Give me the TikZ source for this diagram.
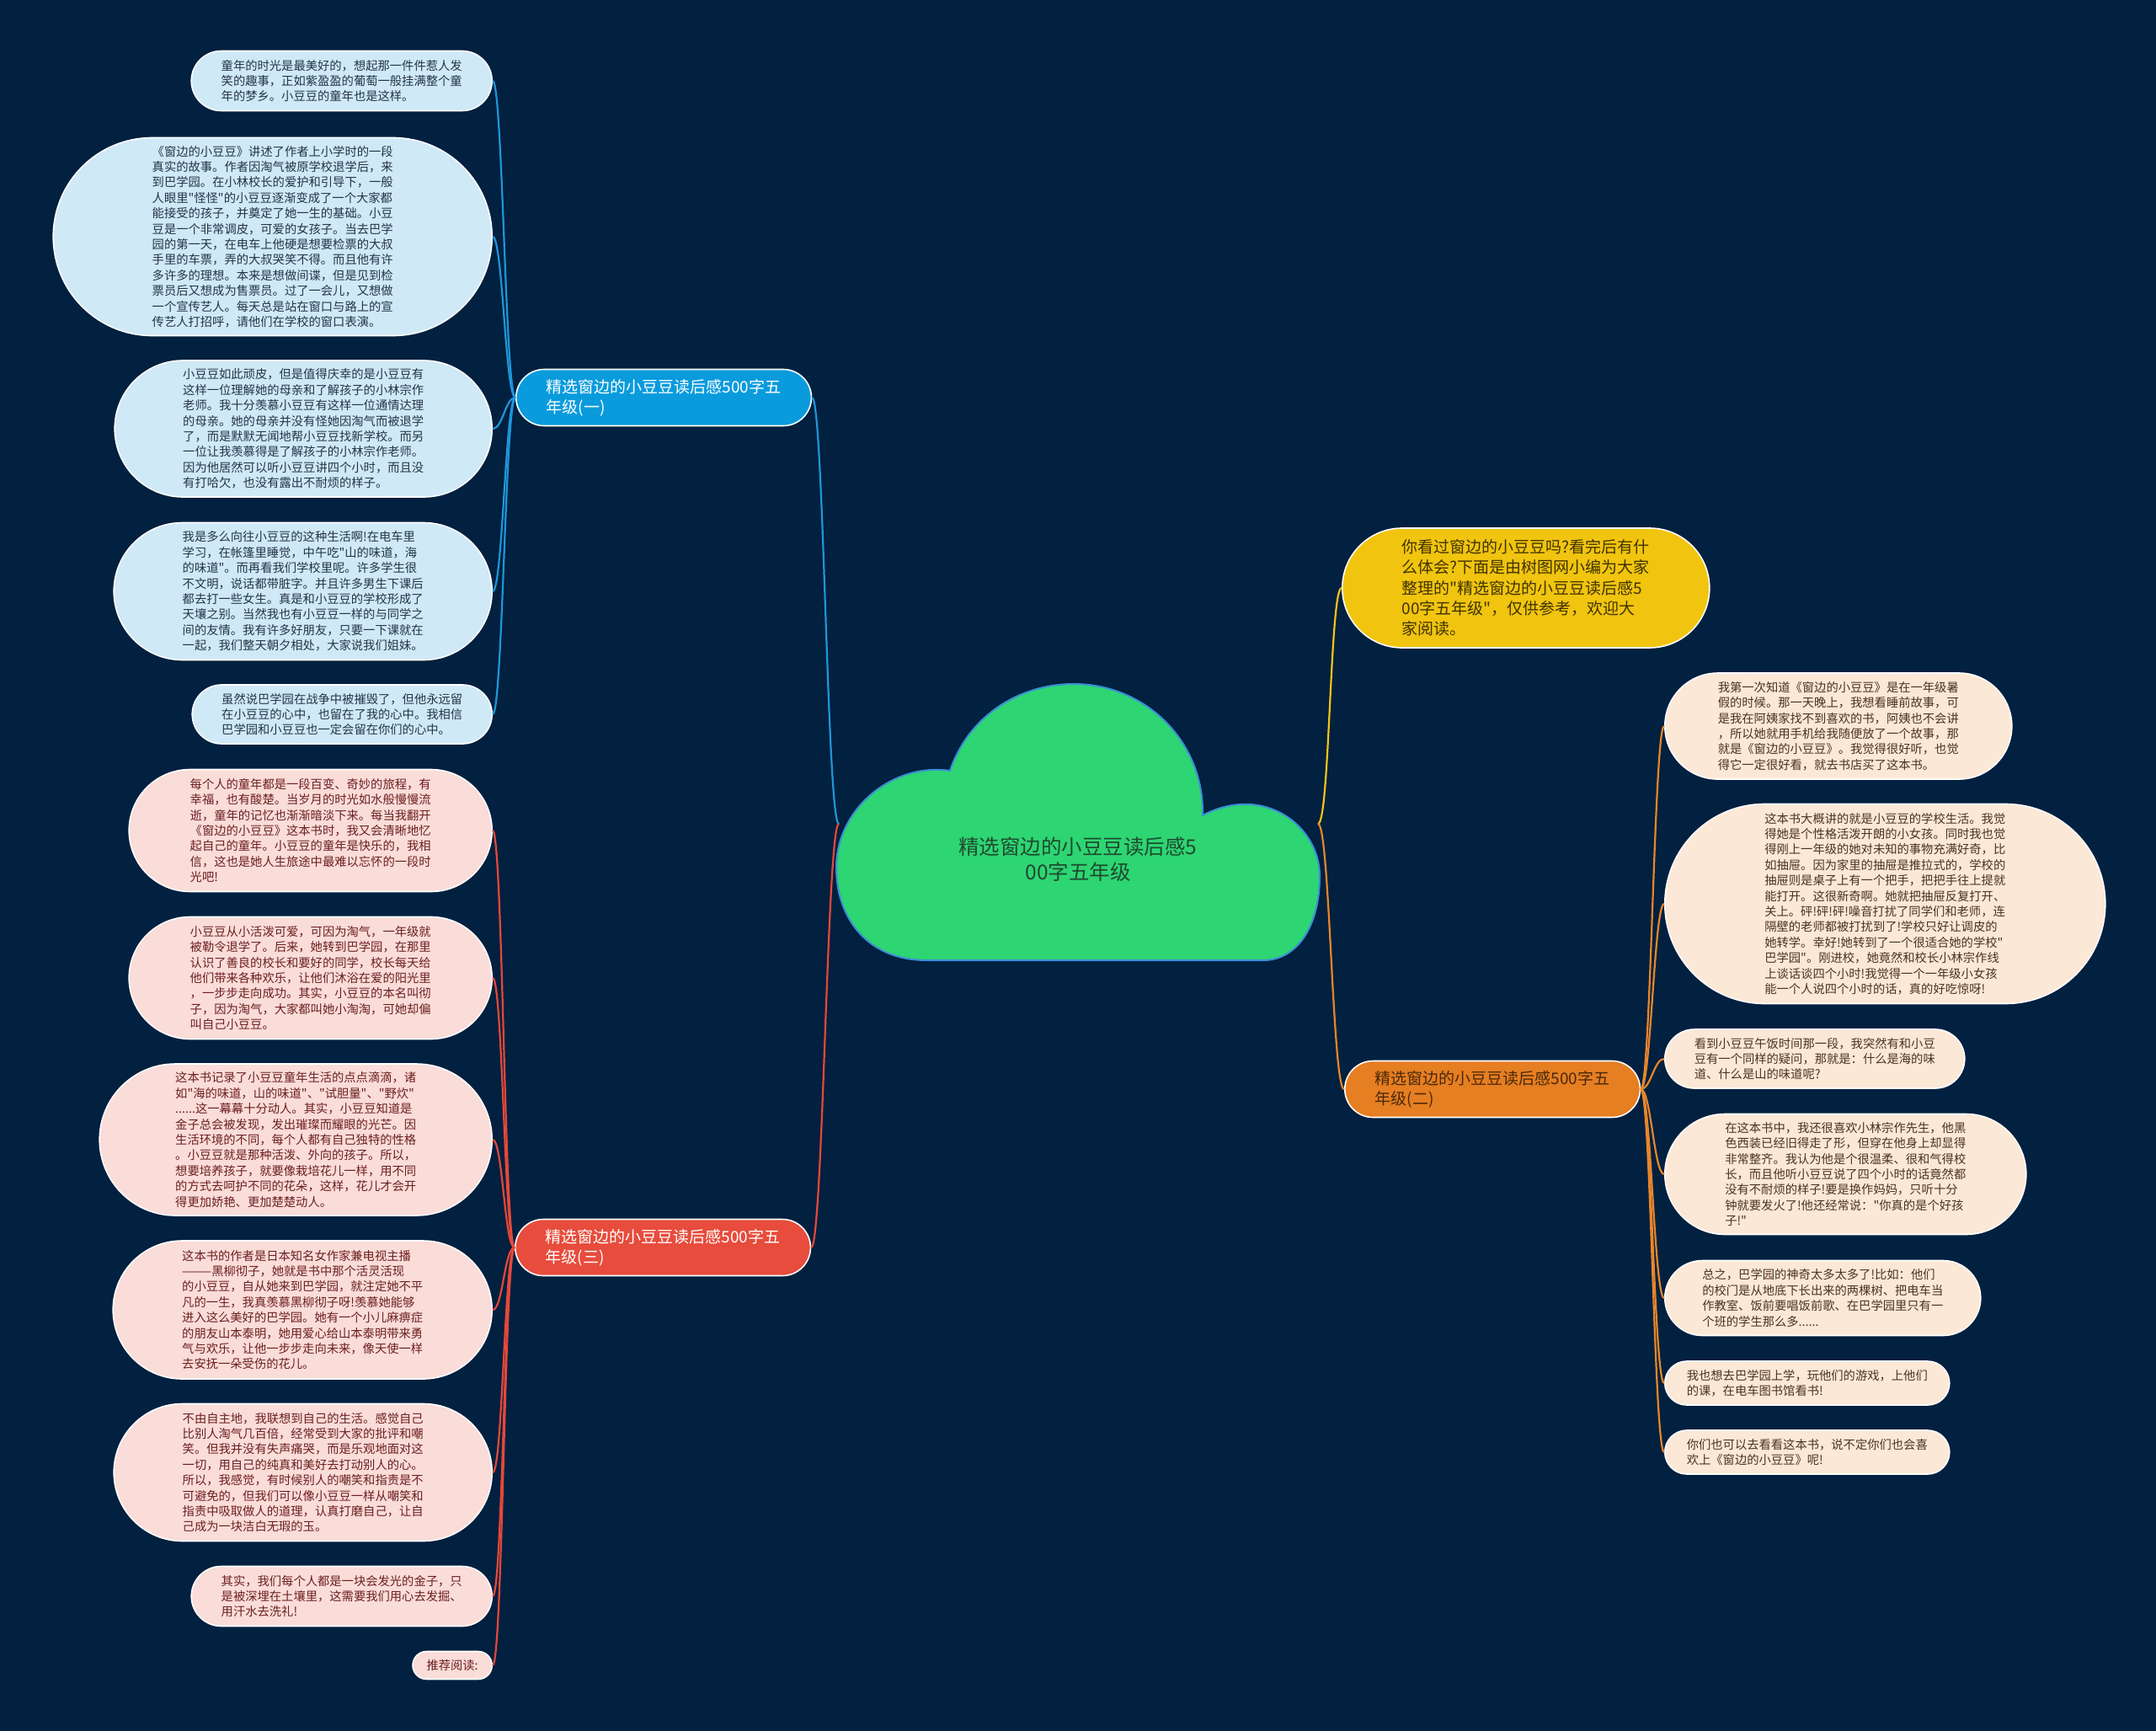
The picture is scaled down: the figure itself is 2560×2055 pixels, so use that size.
\documentclass[tikz,border=0pt]{standalone}
\usepackage{fontspec}
\newfontfamily\cjk{Noto Sans CJK SC}
\definecolor{bgc}{HTML}{02203F}
\definecolor{cloudfill}{HTML}{2ED573}
\definecolor{cloudline}{HTML}{3B8FD6}
\definecolor{roottext}{HTML}{1E4A2E}
\definecolor{cblue}{HTML}{1E96DA}
\definecolor{cred}{HTML}{E5483A}
\definecolor{corange}{HTML}{E8862A}
\definecolor{cyellow}{HTML}{F2C418}
\definecolor{fblue}{HTML}{0A9BDD}
\definecolor{fred}{HTML}{E74C3C}
\definecolor{forange}{HTML}{E67E22}
\definecolor{fyellow}{HTML}{F1C40F}
\definecolor{lblue}{HTML}{CFE9F7}
\definecolor{lpink}{HTML}{FADCD9}
\definecolor{lpeach}{HTML}{FCE8D6}
\definecolor{tblue}{HTML}{243447}
\definecolor{tpink}{HTML}{6B1F1F}
\definecolor{tpeach}{HTML}{4A3320}
\definecolor{tbrown}{HTML}{4A2808}
\definecolor{tyellow}{HTML}{3F3300}
\begin{document}
\begin{tikzpicture}[x=1pt,y=-1pt,
  pill/.style={rectangle, rounded corners=#1, inner xsep=#1, minimum height=2*#1},
  leaf/.style={inner ysep=6pt, align=left, draw=white, line width=1.6pt, font={\cjk\fontsize{14.3}{18.4}\selectfont}},
  leafb/.style={leaf, fill=lblue, text=tblue, anchor=east},
  leafr/.style={leaf, fill=lpink, text=tpink, anchor=east},
  leafo/.style={leaf, fill=lpeach, text=tpeach, anchor=west},
  branch/.style={rectangle, rounded corners=33.5pt, minimum height=67pt, inner xsep=36pt, inner ysep=6pt, align=left, draw=white, line width=1.6pt, anchor=west, font={\cjk\fontsize{19}{24.3}\selectfont}},
  conn/.style={line width=2.2pt},
]
\fill[bgc] (0,0) rectangle (2560,2055);
\useasboundingbox (0,0) rectangle (2560,2055);

% cloud
\fill[cloudfill, draw=cloudline, line width=2pt]
  (1100,1140) .. controls (1030,1140) and (993,1090) .. (993,1030)
  .. controls (993,960) and (1060,905) .. (1128,915)
  .. controls (1150,850) and (1210,812) .. (1275,812)
  .. controls (1360,812) and (1430,880) .. (1428,968)
  .. controls (1500,930) and (1567,980) .. (1567,1040)
  .. controls (1567,1100) and (1540,1140) .. (1500,1140)
  -- cycle;
\node[font={\cjk\fontsize{24.5}{30}\selectfont}, text=roottext, align=center] (root) at (1280,1020) {精选窗边的小豆豆读后感5\\00字五年级};
\coordinate (rootL) at (996,978);
\coordinate (rootR) at (1565,978);

% branches
\node[branch, fill=fblue, text=white] (b1) at (612,472) {精选窗边的小豆豆读后感500字五\\年级(一)};
\node[branch, fill=fred, text=white] (b3) at (611,1481) {精选窗边的小豆豆读后感500字五\\年级(三)};
\node[branch, fill=forange, text=tbrown] (b2) at (1596,1293) {精选窗边的小豆豆读后感500字五\\年级(二)};
\node[pill=71pt, inner ysep=6pt, align=left, draw=white, line width=1.6pt, anchor=west, font={\cjk\fontsize{19}{24.3}\selectfont}, fill=fyellow, text=tyellow] (intro) at (1593,698) {你看过窗边的小豆豆吗?看完后有什\\么体会?下面是由树图网小编为大家\\整理的"精选窗边的小豆豆读后感5\\00字五年级"，仅供参考，欢迎大\\家阅读。};

% blue leaves
\node[leafb, pill=35.5pt] (l1) at (585,96) {童年的时光是最美好的，想起那一件件惹人发\\笑的趣事，正如紫盈盈的葡萄一般挂满整个童\\年的梦乡。小豆豆的童年也是这样。};
\node[leafb, pill=117.5pt] (l2) at (585,281) {《窗边的小豆豆》讲述了作者上小学时的一段\\真实的故事。作者因淘气被原学校退学后，来\\到巴学园。在小林校长的爱护和引导下，一般\\人眼里"怪怪"的小豆豆逐渐变成了一个大家都\\能接受的孩子，并奠定了她一生的基础。小豆\\豆是一个非常调皮，可爱的女孩子。当去巴学\\园的第一天，在电车上他硬是想要检票的大叔\\手里的车票，弄的大叔哭笑不得。而且他有许\\多许多的理想。本来是想做间谍，但是见到检\\票员后又想成为售票员。过了一会儿，又想做\\一个宣传艺人。每天总是站在窗口与路上的宣\\传艺人打招呼，请他们在学校的窗口表演。};
\node[leafb, pill=81pt] (l3) at (585,509) {小豆豆如此顽皮，但是值得庆幸的是小豆豆有\\这样一位理解她的母亲和了解孩子的小林宗作\\老师。我十分羡慕小豆豆有这样一位通情达理\\的母亲。她的母亲并没有怪她因淘气而被退学\\了，而是默默无闻地帮小豆豆找新学校。而另\\一位让我羡慕得是了解孩子的小林宗作老师。\\因为他居然可以听小豆豆讲四个小时，而且没\\有打哈欠，也没有露出不耐烦的样子。};
\node[leafb, pill=81.5pt] (l4) at (585,702) {我是多么向往小豆豆的这种生活啊!在电车里\\学习，在帐篷里睡觉，中午吃"山的味道，海\\的味道"。而再看我们学校里呢。许多学生很\\不文明，说话都带脏字。并且许多男生下课后\\都去打一些女生。真是和小豆豆的学校形成了\\天壤之别。当然我也有小豆豆一样的与同学之\\间的友情。我有许多好朋友，只要一下课就在\\一起，我们整天朝夕相处，大家说我们姐妹。};
\node[leafb, pill=35pt] (l5) at (585,848) {虽然说巴学园在战争中被摧毁了，但他永远留\\在小豆豆的心中，也留在了我的心中。我相信\\巴学园和小豆豆也一定会留在你们的心中。};

% pink leaves
\node[leafr, pill=72.5pt] (l6) at (585,986) {每个人的童年都是一段百变、奇妙的旅程，有\\幸福，也有酸楚。当岁月的时光如水般慢慢流\\逝，童年的记忆也渐渐暗淡下来。每当我翻开\\《窗边的小豆豆》这本书时，我又会清晰地忆\\起自己的童年。小豆豆的童年是快乐的，我相\\信，这也是她人生旅途中最难以忘怀的一段时\\光吧!};
\node[leafr, pill=72.5pt] (l7) at (585,1161) {小豆豆从小活泼可爱，可因为淘气，一年级就\\被勒令退学了。后来，她转到巴学园，在那里\\认识了善良的校长和要好的同学，校长每天给\\他们带来各种欢乐，让他们沐浴在爱的阳光里\\，一步步走向成功。其实，小豆豆的本名叫彻\\子，因为淘气，大家都叫她小淘淘，可她却偏\\叫自己小豆豆。};
\node[leafr, pill=90pt] (l8) at (585,1353) {这本书记录了小豆豆童年生活的点点滴滴，诸\\如"海的味道，山的味道"、"试胆量"、"野炊"\\......这一幕幕十分动人。其实，小豆豆知道是\\金子总会被发现，发出璀璨而耀眼的光芒。因\\生活环境的不同，每个人都有自己独特的性格\\。小豆豆就是那种活泼、外向的孩子。所以，\\想要培养孩子，就要像栽培花儿一样，用不同\\的方式去呵护不同的花朵，这样，花儿才会开\\得更加娇艳、更加楚楚动人。};
\node[leafr, pill=82pt] (l9) at (585,1555) {这本书的作者是日本知名女作家兼电视主播\\———黑柳彻子，她就是书中那个活灵活现\\的小豆豆，自从她来到巴学园，就注定她不平\\凡的一生，我真羡慕黑柳彻子呀!羡慕她能够\\进入这么美好的巴学园。她有一个小儿麻痹症\\的朋友山本泰明，她用爱心给山本泰明带来勇\\气与欢乐，让他一步步走向未来，像天使一样\\去安抚一朵受伤的花儿。};
\node[leafr, pill=81.5pt] (l10) at (585,1748) {不由自主地，我联想到自己的生活。感觉自己\\比别人淘气几百倍，经常受到大家的批评和嘲\\笑。但我并没有失声痛哭，而是乐观地面对这\\一切，用自己的纯真和美好去打动别人的心。\\所以，我感觉，有时候别人的嘲笑和指责是不\\可避免的，但我们可以像小豆豆一样从嘲笑和\\指责中吸取做人的道理，认真打磨自己，让自\\己成为一块洁白无瑕的玉。};
\node[leafr, pill=35.5pt] (l11) at (585,1895) {其实，我们每个人都是一块会发光的金子，只\\是被深埋在土壤里，这需要我们用心去发掘、\\用汗水去洗礼!};
\node[leafr, pill=16.5pt] (l12) at (585,1977) {推荐阅读:};

% peach leaves
\node[leafo, pill=63pt] (r1) at (1976,862) {我第一次知道《窗边的小豆豆》是在一年级暑\\假的时候。那一天晚上，我想看睡前故事，可\\是我在阿姨家找不到喜欢的书，阿姨也不会讲\\，所以她就用手机给我随便放了一个故事，那\\就是《窗边的小豆豆》。我觉得很好听，也觉\\得它一定很好看，就去书店买了这本书。};
\node[leafo, pill=118.5pt] (r2) at (1976,1073) {这本书大概讲的就是小豆豆的学校生活。我觉\\得她是个性格活泼开朗的小女孩。同时我也觉\\得刚上一年级的她对未知的事物充满好奇，比\\如抽屉。因为家里的抽屉是推拉式的，学校的\\抽屉则是桌子上有一个把手，把把手往上提就\\能打开。这很新奇啊。她就把抽屉反复打开、\\关上。砰!砰!砰!噪音打扰了同学们和老师，连\\隔壁的老师都被打扰到了!学校只好让调皮的\\她转学。幸好!她转到了一个很适合她的学校"\\巴学园"。刚进校，她竟然和校长小林宗作线\\上谈话谈四个小时!我觉得一个一年级小女孩\\能一个人说四个小时的话，真的好吃惊呀!};
\node[leafo, pill=35pt] (r3) at (1976,1257) {看到小豆豆午饭时间那一段，我突然有和小豆\\豆有一个同样的疑问，那就是：什么是海的味\\道、什么是山的味道呢?};
\node[leafo, pill=71.5pt] (r4) at (1976,1394) {在这本书中，我还很喜欢小林宗作先生，他黑\\色西装已经旧得走了形，但穿在他身上却显得\\非常整齐。我认为他是个很温柔、很和气得校\\长，而且他听小豆豆说了四个小时的话竟然都\\没有不耐烦的样子!要是换作妈妈，只听十分\\钟就要发火了!他还经常说："你真的是个好孩\\子!"};
\node[leafo, pill=44.5pt] (r5) at (1976,1541) {总之，巴学园的神奇太多太多了!比如：他们\\的校门是从地底下长出来的两棵树、把电车当\\作教室、饭前要唱饭前歌、在巴学园里只有一\\个班的学生那么多......};
\node[leafo, pill=26pt] (r6) at (1976,1642) {我也想去巴学园上学，玩他们的游戏，上他们\\的课，在电车图书馆看书!};
\node[leafo, pill=26pt] (r7) at (1976,1724) {你们也可以去看看这本书，说不定你们也会喜\\欢上《窗边的小豆豆》呢!};

% main connectors
\draw[conn, cblue] (rootL) .. controls +(-14,0) and +(14,0) .. (b1.east);
\draw[conn, cred] (rootL) .. controls +(-14,0) and +(14,0) .. (b3.east);
\draw[conn, cyellow] (rootR) .. controls +(14,0) and +(-14,0) .. (intro.west);
\draw[conn, corange] (rootR) .. controls +(14,0) and +(-14,0) .. (b2.west);

% leaf connectors
\foreach \n in {l1,l2,l3,l4,l5}
  \draw[conn, cblue] (b1.west) .. controls +(-12,0) and +(12,0) .. (\n.east);
\foreach \n in {l6,l7,l8,l9,l10,l11,l12}
  \draw[conn, cred] (b3.west) .. controls +(-12,0) and +(12,0) .. (\n.east);
\foreach \n in {r1,r2,r3,r4,r5,r6,r7}
  \draw[conn, corange] (b2.east) .. controls +(12,0) and +(-12,0) .. (\n.west);
\end{tikzpicture}
\end{document}
